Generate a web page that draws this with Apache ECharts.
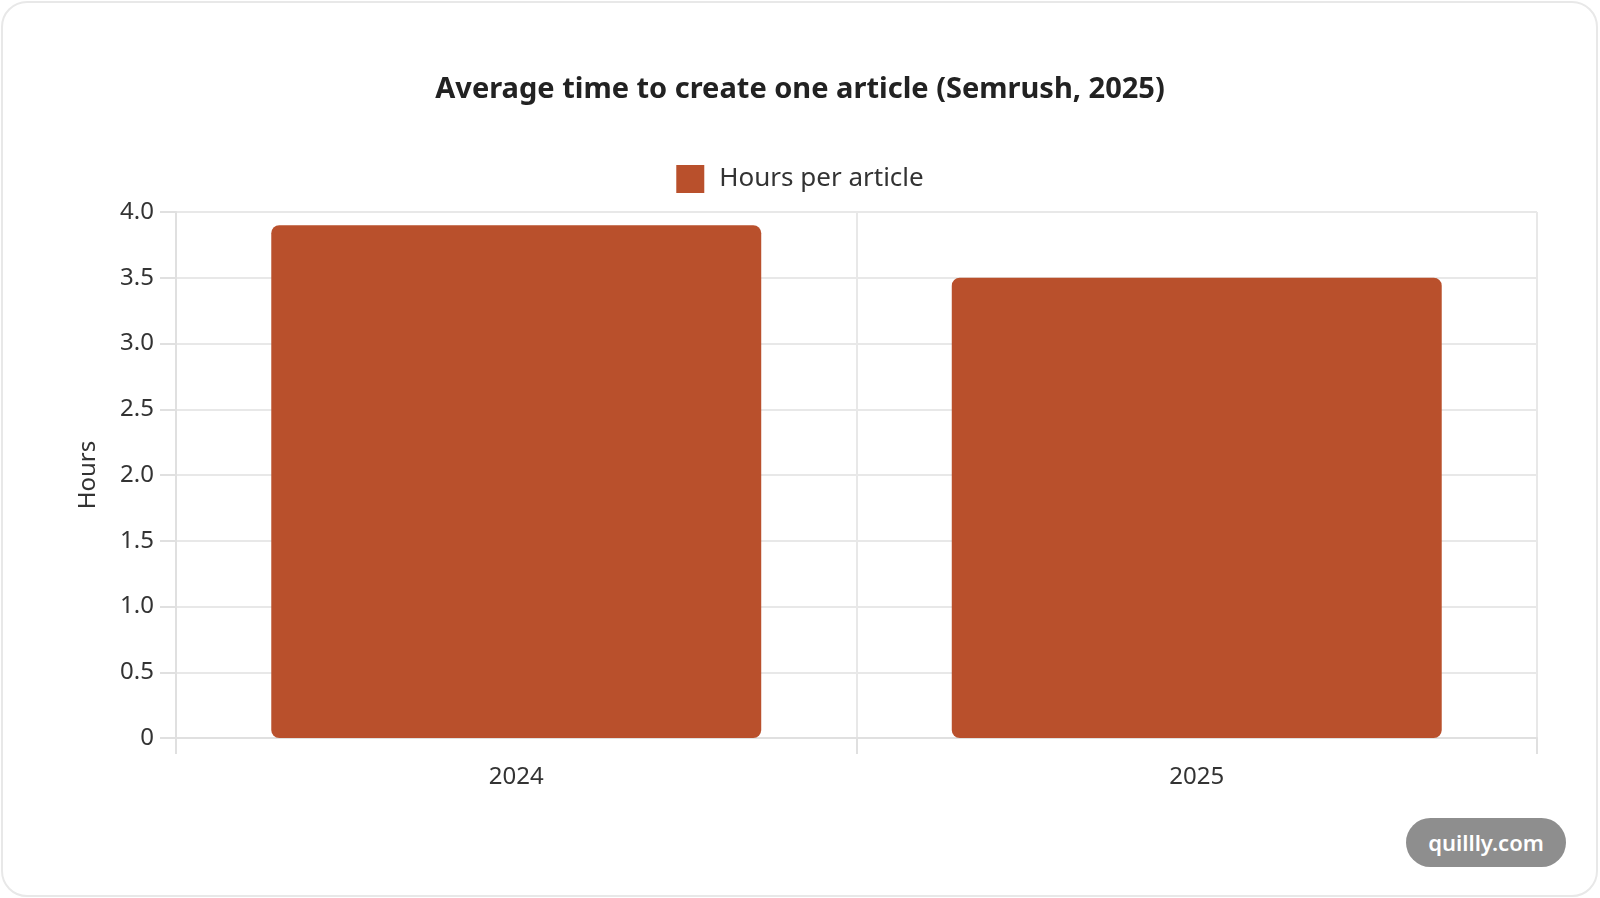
<!DOCTYPE html>
<html>
<head>
<meta charset="utf-8">
<script src="https://cdn.jsdelivr.net/npm/echarts@6/dist/echarts.min.js"></script>
<style>
  html, body { margin: 0; padding: 0; background: #fff; }
  #card {
    position: absolute; left: 1px; top: 1px; width: 1597px; height: 896px;
    border: 2px solid #e8e8e8; border-radius: 26px; box-sizing: border-box;
  }
  #chart { position: absolute; left: 0; top: 0; width: 1600px; height: 898px; }
  #badge {
    position: absolute; left: 1406px; top: 818px; width: 160px; height: 49px;
    border-radius: 25px; background: #8e8e8e; color: #fff;
    font: 600 22px "Noto Sans", sans-serif; line-height: 49px; text-align: center;
  }
</style>
</head>
<body>
<div id="card"></div>
<div id="chart"></div>
<div id="badge">quillly.com</div>
<script>
  // 数据
  var years = ['2024', '2025'];
  var hoursPerArticle = [3.9, 3.5];

  var chart = echarts.init(document.getElementById('chart'));
  chart.setOption({
    textStyle: { fontFamily: 'Noto Sans' },
    title: {
      text: 'Average time to create one article (Semrush, 2025)',
      left: 'center',
      top: 70,
      textStyle: { fontSize: 29, fontWeight: 'bold', color: '#222' }
    },
    legend: {
      top: 160,
      left: 'center',
      icon: 'rect',
      itemWidth: 28,
      itemHeight: 28,
      textStyle: { fontSize: 26, color: '#333', padding: [0, 0, 0, 10] },
      data: ['Hours per article']
    },
    grid: { left: 176, right: 63, top: 212, bottom: 160 },
    xAxis: {
      type: 'category',
      data: years,
      axisLine: { lineStyle: { color: '#e0e0e0', width: 2 } },
      axisTick: { show: true, length: 16, lineStyle: { color: '#e0e0e0', width: 2 } },
      axisLabel: { fontSize: 24, color: '#333', margin: 27 },
      splitLine: { show: true, lineStyle: { color: '#e8e8e8', width: 2 } }
    },
    yAxis: {
      type: 'value',
      min: 0,
      max: 4,
      interval: 0.5,
      name: 'Hours',
      nameLocation: 'middle',
      nameGap: 76,
      nameTextStyle: { fontSize: 24, color: '#333' },
      axisLine: { show: true, lineStyle: { color: '#e0e0e0', width: 2 } },
      axisTick: { show: true, length: 16, lineStyle: { color: '#e0e0e0', width: 2 } },
      axisLabel: {
        fontSize: 24, color: '#333', margin: 22,
        formatter: function (v) { return v === 0 ? '0' : v.toFixed(1); }
      },
      splitLine: { lineStyle: { color: '#e8e8e8', width: 2 } }
    },
    series: [{
      name: 'Hours per article',
      type: 'bar',
      data: hoursPerArticle,
      barWidth: '72%',
      itemStyle: { color: '#b9502c', borderRadius: 8 }
    }]
  });
</script>
</body>
</html>
